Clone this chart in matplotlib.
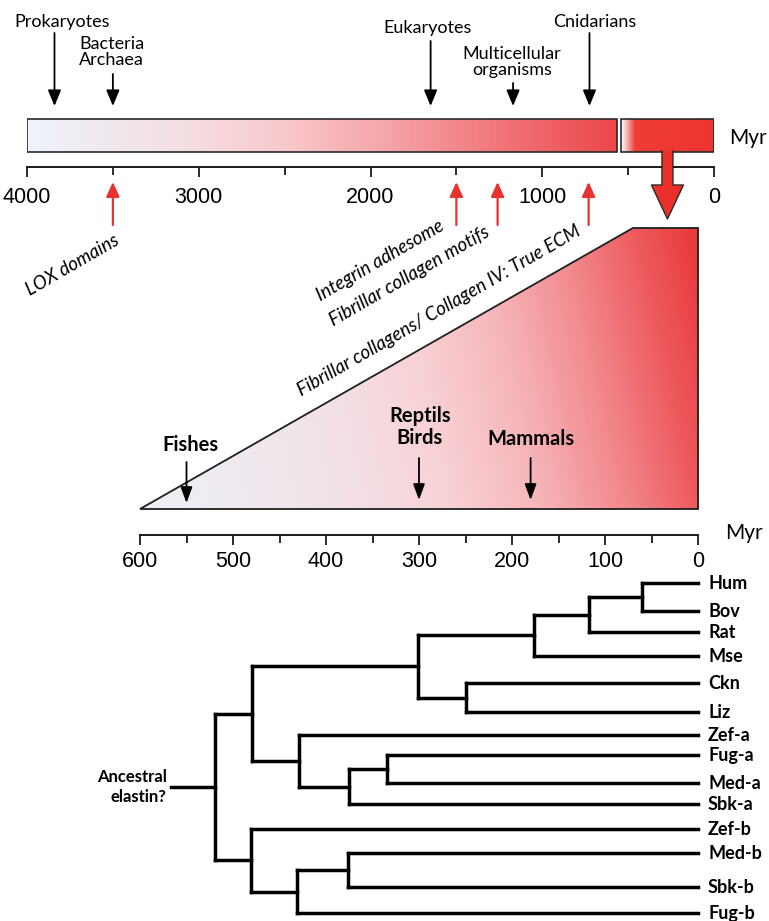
import numpy as np
import matplotlib
matplotlib.use("Agg")
import matplotlib.pyplot as plt
from matplotlib.colors import LinearSegmentedColormap
from matplotlib.patches import Polygon, Rectangle

# ------------------------------------------------------------------ data
top_ticks_major = [4000, 3000, 2000, 1000, 0]
top_ticks_minor = [3500, 2500, 1500, 500]
bar_segments = [(4000, 566), (540, 0)]

top_events = ["Prokaryotes", "Bacteria\nArchaea", "Eukaryotes",
              "Multicellular\norganisms", "Cnidarians"]
top_event_myr = [3840, 3500, 1650, 1170, 725]

ecm_events = ["LOX domains", "Integrin adhesome", "Fibrillar collagen motifs",
              "Fibrillar collagens/ Collagen IV: True ECM"]
ecm_event_myr = [3500, 1500, 1260, 730]

zoom_arrow_myr = 271

mid_ticks_major = [600, 500, 400, 300, 200, 100, 0]
mid_ticks_minor = [550, 450, 350, 250, 150, 50]
ramp_start_myr = 600
ramp_top_myr = 70
ramp_end_myr = 0

vert_groups = ["Fishes", "Reptils\nBirds", "Mammals"]
vert_group_myr = [550, 300, 180]

leaves = ["Hum", "Bov", "Rat", "Mse", "Ckn", "Liz", "Zef-a", "Fug-a", "Med-a",
          "Sbk-a", "Zef-b", "Med-b", "Sbk-b", "Fug-b"]
leaf_rows = [583, 611, 632, 656, 683, 712, 735, 755, 783, 804, 829, 853, 887, 913]
tree_children = {
    "HB": ["Hum", "Bov"], "HBR": ["HB", "Rat"], "MAM": ["HBR", "Mse"],
    "CL": ["Ckn", "Liz"], "AMN": ["MAM", "CL"],
    "FMA": ["Fug-a", "Med-a"], "A2": ["FMA", "Sbk-a"], "A": ["Zef-a", "A2"],
    "TA": ["AMN", "A"],
    "MSB": ["Med-b", "Sbk-b"], "B2": ["MSB", "Fug-b"], "B": ["Zef-b", "B2"],
    "ROOT": ["TA", "B"],
}
node_ages = {"HB": 60, "HBR": 117, "MAM": 176, "CL": 249, "AMN": 301,
             "FMA": 334, "A2": 375, "A": 429, "TA": 480,
             "MSB": 376, "B2": 431, "B": 481, "ROOT": 519}
root_stem_myr = 567
root_label = "Ancestral\nelastin?"

# ------------------------------------------------------------------ style
W, H, DPI = 769, 921, 100
plt.rcParams['font.family'] = ['Lato', 'DejaVu Sans']
NUMFONT = 'Liberation Sans'
PT = 72.0 / DPI  # points per pixel

fig = plt.figure(figsize=(W / DPI, H / DPI), dpi=DPI)


def axes_px(x0, y0, x1, y1):
    ax = fig.add_axes([x0 / W, 1 - y1 / H, (x1 - x0) / W, (y1 - y0) / H])
    ax.patch.set_visible(False)
    return ax


def style_axis(ax, major, minor, pad):
    for s in ['top', 'left', 'right']:
        ax.spines[s].set_visible(False)
    ax.spines['bottom'].set_linewidth(1.4)
    ax.spines['bottom'].set_color('#1a1a1a')
    ax.set_yticks([])
    ax.set_xticks(major, labels=[str(t) for t in major],
                  fontfamily=NUMFONT, fontsize=15.5)
    ax.set_xticks(minor, minor=True)
    ax.tick_params(axis='x', which='major', direction='out', length=10 * PT,
                   width=1.3, pad=pad, color='#1a1a1a')
    ax.tick_params(axis='x', which='minor', direction='out', length=8 * PT,
                   width=1.3, color='#1a1a1a')


def arrow(ax, x, y0, y1, color, lw, hl, hw, ms=10):
    ax.annotate('', xy=(x, y1), xytext=(x, y0),
                arrowprops=dict(arrowstyle=f'-|>,head_length={hl},head_width={hw}',
                                color=color, lw=lw, shrinkA=0, shrinkB=0,
                                mutation_scale=ms),
                annotation_clip=False)


# ================================================================ top panel
ax1 = axes_px(27, 0, 714, 167)
ax1.set_xlim(4000, 0)
ax1.set_ylim(167, 0)
K1 = 687 / 4000.0  # px per Myr

cm_top = LinearSegmentedColormap.from_list('top', [
    (0.0, '#eef3fc'), (0.25, '#f3e0e4'), (0.42, '#f9cbcf'),
    (0.62, '#f5a3a8'), (0.82, '#f07175'), (1.0, '#eb474a')])
cm_b2 = LinearSegmentedColormap.from_list('b2', [
    (0.0, '#ffffff'), (0.06, '#f7b9b6'), (0.15, '#ee3d36'), (1.0, '#ee3430')])
grad = np.linspace(0, 1, 256)[None, :]
for (a, b), cm in zip(bar_segments, [cm_top, cm_b2]):
    ax1.imshow(grad, cmap=cm, extent=(a, b, 152, 119), aspect='auto',
               interpolation='bicubic', zorder=1)
    ax1.add_patch(Rectangle((b, 119), a - b, 33, fill=False, ec='#2a2a2a',
                            lw=1.2, zorder=2))

# big downward arrow
c = zoom_arrow_myr
ds, dh = 5.5 / K1, 16 / K1
verts = [(c - ds, 151), (c - ds, 185), (c - dh, 185), (c, 219),
         (c + dh, 185), (c + ds, 185), (c + ds, 151)]
ax1.add_patch(Polygon(verts, closed=True, fc='#e9302a', ec='none', zorder=4,
                      clip_on=False))
vx, vy = zip(*verts)
ax1.plot(vx, vy, color='#2a2a2a', lw=1.0, zorder=5, clip_on=False)

# top events
ev_dx = [8, -1, -3, -1, 5]
ev_ty = [22, 52, 28, 62, 22]
ev_ay = [33, 74, 41, 83, 33]
for lab, m, dx, ty, ay in zip(top_events, top_event_myr, ev_dx, ev_ty, ev_ay):
    ax1.text(m - dx / K1, ty, lab, ha='center', va='center', fontsize=13,
             linespacing=1.0, clip_on=False)
    arrow(ax1, m, ay, 106, 'black', 1.3, 0.6, 0.25, ms=16)

# ECM red events
ecm_dx = [-40, -76, -88, -150]
ecm_dy = [40, 36, 51, 86]
for lab, m, dx, dy in zip(ecm_events, ecm_event_myr, ecm_dx, ecm_dy):
    arrow(ax1, m, 225, 182, '#e8322f', 1.6, 0.55, 0.25, ms=16)
    ax1.text(m - dx / K1, 225 + dy, lab, ha='center', va='center',
             rotation=30, rotation_mode='anchor', fontsize=13.5, style='italic',
             clip_on=False)

style_axis(ax1, top_ticks_major, top_ticks_minor, pad=7)
ax1.set_xlim(4000, 0)
ax1.set_ylim(167, 0)
fig.text(729 / W, 1 - 138 / H, 'Myr', ha='left', va='center', fontsize=15)

# ================================================================ middle panel
ax2 = axes_px(140, 200, 698, 535)
ax2.set_xlim(600, 0)
ax2.set_ylim(535, 200)

cm_mid = LinearSegmentedColormap.from_list('mid', [
    (0.0, '#eef1f8'), (0.3, '#f1e4ea'), (0.5, '#f8d2d6'), (0.65, '#f6b5b9'),
    (0.78, '#f28a8e'), (0.9, '#ed5b5e'), (1.0, '#e8383a')])
xs = np.linspace(0, 1, 400)
ys = np.linspace(1, 0, 150)
X, Y = np.meshgrid(xs, ys)
S = 0.9 * X + 0.1 * Y
im = ax2.imshow(S, cmap=cm_mid, vmin=0, vmax=1,
                extent=(ramp_start_myr, ramp_end_myr, 509, 228),
                aspect='auto', interpolation='bicubic', zorder=1)
trap = Polygon([(ramp_start_myr, 509), (ramp_top_myr, 228), (ramp_end_myr, 228),
                (ramp_end_myr, 509)], closed=True, fc='none', ec='#1f1f1f',
               lw=1.3, zorder=2, clip_on=False)
ax2.add_patch(trap)
im.set_clip_path(trap)

grp_dx = [4, 1, 0]
grp_ty = [445, 427, 439]
grp_ay = [462, 458, 458]
grp_ey = [503, 500, 500]
K2 = 558 / 600.0
for lab, m, dx, ty, ay, ey in zip(vert_groups, vert_group_myr, grp_dx, grp_ty,
                                  grp_ay, grp_ey):
    ax2.text(m - dx / K2, ty, lab, ha='center', va='center', fontsize=14.5,
             fontweight='bold', linespacing=1.1, clip_on=False)
    arrow(ax2, m, ay, ey, 'black', 1.3, 0.6, 0.22, ms=16)

style_axis(ax2, mid_ticks_major, mid_ticks_minor, pad=4)
ax2.set_xlim(600, 0)
ax2.set_ylim(535, 200)
fig.text(725 / W, 1 - 533 / H, 'Myr', ha='left', va='center', fontsize=15)

# ================================================================ tree
ax3 = axes_px(140, 560, 698, 921)
ax3.set_xlim(600, 0)
ax3.set_ylim(921, 560)
ax3.axis('off')

leaf_y = dict(zip(leaves, leaf_rows))
pos = {}


def layout(n):
    if n in leaf_y:
        pos[n] = (0.0, leaf_y[n])
        return pos[n]
    kids = [layout(k) for k in tree_children[n]]
    y = (kids[0][1] + kids[-1][1]) / 2.0
    pos[n] = (node_ages[n], y)
    return pos[n]


layout("ROOT")
LW = 2.5
for n, kids in tree_children.items():
    x, y = pos[n]
    ky = [pos[k][1] for k in kids]
    ax3.plot([x, x], [min(ky), max(ky)], color='black', lw=LW,
             solid_capstyle='projecting', clip_on=False)
    for k in kids:
        ax3.plot([x, pos[k][0]], [pos[k][1], pos[k][1]], color='black', lw=LW,
                 solid_capstyle='projecting', clip_on=False)

rx, ry = pos["ROOT"]
ax3.plot([root_stem_myr, rx], [ry, ry], color='black', lw=LW,
         solid_capstyle='projecting', clip_on=False)
ax3.annotate(root_label, xy=(root_stem_myr, ry), xytext=(-4 * PT, 0),
             textcoords='offset points', ha='right', va='center',
             fontsize=12, fontweight='bold', linespacing=1.25,
             annotation_clip=False)

for name in leaves:
    ax3.annotate(name, xy=(0, leaf_y[name]), xytext=(10 * PT, 0),
                 textcoords='offset points', ha='left', va='center',
                 fontsize=13, fontweight='bold', annotation_clip=False)

fig.savefig('out.png', dpi=DPI)
